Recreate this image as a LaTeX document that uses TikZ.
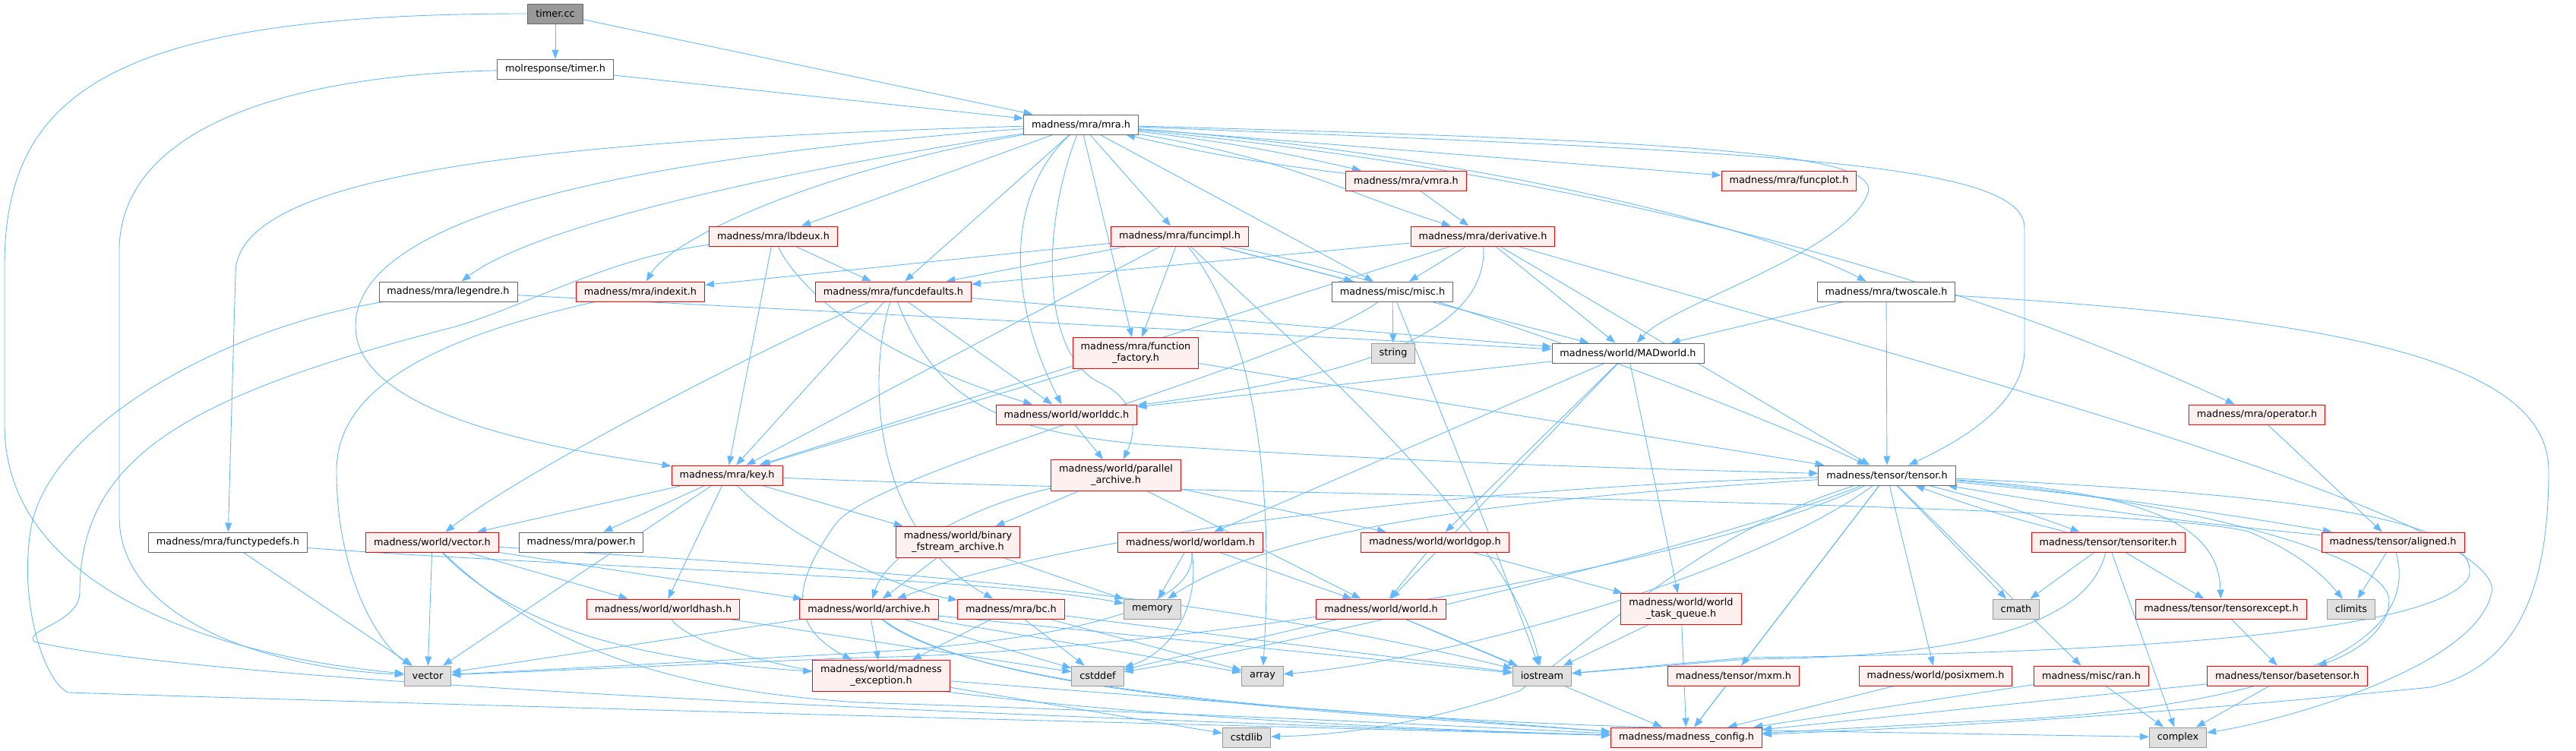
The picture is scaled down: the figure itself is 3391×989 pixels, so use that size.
\documentclass[tikz,border=0pt]{standalone}
\usepackage{fontspec}
\usetikzlibrary{positioning, arrows.meta, calc}
\newfontfamily\doxfont{DejaVu Sans}
\definecolor{doxEdge}{HTML}{63B8FF}
\definecolor{doxRed}{HTML}{FF0000}
\definecolor{doxPink}{HTML}{FFF0F0}
\definecolor{doxGrey}{HTML}{666666}
\definecolor{doxSysFill}{HTML}{E0E0E0}
\definecolor{doxSysLine}{HTML}{999999}
\definecolor{doxRoot}{HTML}{999999}
\pgfdeclarelayer{edges}
\pgfsetlayers{edges,main}

\begin{document}
\begin{tikzpicture}[x=0.2mm, y=-0.2mm,
    box/.style={rectangle, font=\doxfont\fontsize{7.3pt}{8.6pt}\selectfont,
      inner xsep=2.1mm, inner ysep=0pt, minimum height=5.2mm, line width=0.5pt},
    two/.style={align=center, minimum height=8.2mm},
    file/.style={box, draw=doxGrey, fill=white},
    trunc/.style={box, draw=doxRed, fill=doxPink},
    sys/.style={box, draw=doxSysLine, fill=doxSysFill},
    root/.style={box, draw=doxGrey, fill=doxRoot},
    inc/.style={draw=doxEdge, line width=0.5pt, -{Triangle[length=2.4mm, width=1.8mm]}}]
  \useasboundingbox (0,0) rectangle (3391,989);

  % Dateien, Reihe fuer Reihe (Mitte in Pixel des Originals)
  \node[root] (timercc) at (731,18) {timer.cc};
  \node[file] (timerh) at (731,91) {molresponse/timer.h};
  \node[file] (mra) at (1423,164) {madness/mra/mra.h};
  \node[trunc] (vmra) at (1851,238) {madness/mra/vmra.h};
  \node[trunc] (funcplot) at (2355,238) {madness/mra/funcplot.h};
  \node[trunc] (lbdeux) at (1018,311) {madness/mra/lbdeux.h};
  \node[trunc] (funcimpl) at (1553,311) {madness/mra/funcimpl.h};
  \node[trunc] (derivative) at (1952,311) {madness/mra/derivative.h};
  \node[file] (legendre) at (590,384) {madness/mra/legendre.h};
  \node[trunc] (indexit) at (843,384) {madness/mra/indexit.h};
  \node[trunc] (funcdefaults) at (1176,384) {madness/mra/funcdefaults.h};
  \node[file] (misc) at (1833,384) {madness/misc/misc.h};
  \node[file] (twoscale) at (2483,384) {madness/mra/twoscale.h};
  \node[trunc, two] (functionfactory) at (1495,465) {madness/mra/function\\\_factory.h};
  \node[sys] (string) at (1834,465) {string};
  \node[file] (madworld) at (2143,465) {madness/world/MADworld.h};
  \node[trunc] (worlddc) at (1404,546) {madness/world/worlddc.h};
  \node[trunc] (operator) at (2971,546) {madness/mra/operator.h};
  \node[trunc] (key) at (957,626) {madness/mra/key.h};
  \node[trunc, two] (parallelarchive) at (1469,626) {madness/world/parallel\\\_archive.h};
  \node[file] (tensor) at (2484,626) {madness/tensor/tensor.h};
  \node[file] (functypedefs) at (300,714) {madness/mra/functypedefs.h};
  \node[trunc] (vectorh) at (569,714) {madness/world/vector.h};
  \node[file] (power) at (765,714) {madness/mra/power.h};
  \node[trunc, two] (binaryarchive) at (1261,714) {madness/world/binary\\\_fstream\_archive.h};
  \node[trunc] (worldam) at (1567,714) {madness/world/worldam.h};
  \node[trunc] (worldgop) at (1889,714) {madness/world/worldgop.h};
  \node[trunc] (tensoriter) at (2775,714) {madness/tensor/tensoriter.h};
  \node[trunc] (aligned) at (3150,714) {madness/tensor/aligned.h};
  \node[trunc] (worldhash) at (873,802) {madness/world/worldhash.h};
  \node[trunc] (archive) at (1144,802) {madness/world/archive.h};
  \node[trunc] (bc) at (1331,802) {madness/mra/bc.h};
  \node[sys] (memory) at (1517,802) {memory};
  \node[trunc] (world) at (1818,802) {madness/world/world.h};
  \node[trunc, two] (taskqueue) at (2213,802) {madness/world/world\\\_task\_queue.h};
  \node[sys] (cmath) at (2654,802) {cmath};
  \node[trunc] (tensorexcept) at (2924,802) {madness/tensor/tensorexcept.h};
  \node[sys] (climits) at (3095,802) {climits};
  \node[sys] (vector) at (563,890) {vector};
  \node[trunc, two] (exception) at (1160,890) {madness/world/madness\\\_exception.h};
  \node[sys] (cstddef) at (1445,890) {cstddef};
  \node[sys] (array) at (1662,890) {array};
  \node[sys] (iostream) at (2030,890) {iostream};
  \node[trunc] (mxm) at (2282,890) {madness/tensor/mxm.h};
  \node[trunc] (posixmem) at (2548,890) {madness/world/posixmem.h};
  \node[trunc] (ran) at (2753,890) {madness/misc/ran.h};
  \node[trunc] (basetensor) at (3011,890) {madness/tensor/basetensor.h};
  \node[sys] (cstdlib) at (1641,971) {cstdlib};
  \node[trunc] (config) at (2220,971) {madness/madness\_config.h};
  \node[sys] (complex) at (2867,971) {complex};

  \begin{pgfonlayer}{edges}
    % gerade Kanten
    \foreach \a/\b in {timercc/timerh, timercc/mra, timerh/mra,
        mra/funcplot, mra/funcimpl, mra/lbdeux, mra/misc, mra/functionfactory,
        mra/funcdefaults, vmra/derivative,
        lbdeux/key, lbdeux/funcdefaults, legendre/madworld,
        funcimpl/indexit, funcimpl/funcdefaults, funcimpl/key, funcimpl/misc,
        funcimpl/madworld, funcimpl/functionfactory,
        derivative/funcdefaults, derivative/misc, derivative/madworld,
        derivative/tensor, derivative/key,
        funcdefaults/key, funcdefaults/worlddc, funcdefaults/madworld,
        misc/string, twoscale/madworld, twoscale/tensor,
        functionfactory/key, functionfactory/tensor,
        madworld/worlddc, madworld/worldam, madworld/world, madworld/worldgop,
        madworld/taskqueue, worlddc/parallelarchive, operator/aligned,
        parallelarchive/binaryarchive, parallelarchive/world, parallelarchive/worldgop,
        key/vectorh, key/power, key/worldhash, key/vector, key/binaryarchive,
        functypedefs/vector, vectorh/vector, vectorh/worldhash, vectorh/archive,
        binaryarchive/archive, binaryarchive/memory,
        worldam/memory, worldam/world, worldgop/world, worldgop/taskqueue,
        tensor/cmath, tensor/mxm, tensor/posixmem, tensor/ran, tensor/config,
        tensoriter/cmath, tensoriter/tensorexcept, tensoriter/complex,
        aligned/climits, worldhash/cstddef,
        archive/vector, archive/exception, archive/cstddef, archive/array,
        archive/iostream, bc/exception, bc/cstddef, bc/array, bc/iostream,
        world/cstddef, world/iostream, world/config,
        taskqueue/iostream, taskqueue/config, tensorexcept/basetensor,
        exception/cstdlib, exception/config, mxm/config, posixmem/config,
        ran/config, ran/complex, basetensor/config, basetensor/complex}
      \draw[inc] (\a) -- (\b);
    % Hin- und Rueckkanten
    \draw[inc] (mra) to[bend left=3] (vmra);
    \draw[inc] (vmra) to[bend left=3] (mra);
    \draw[inc] (tensor) to[bend left=3] (tensoriter);
    \draw[inc] (tensoriter) to[bend left=3] (tensor);
    \draw[inc] (tensor) to[bend left=2] (aligned);
    \draw[inc] (aligned) to[bend left=2] (tensor);
    % lange Boegen
    \draw[inc] (timercc) .. controls (150,18) and (6,120) .. (6,350)
      -- (6,560) .. controls (6,760) and (250,860) .. (vector);
    \draw[inc] (timerh) .. controls (350,100) and (157,180) .. (157,330)
      -- (157,680) .. controls (157,820) and (360,880) .. (vector);
    \draw[inc] (mra) .. controls (700,185) and (310,230) .. (310,360) -- (functypedefs);
    \draw[inc] (mra) .. controls (1000,230) and (700,300) .. (legendre);
    \draw[inc] (mra) .. controls (1050,230) and (880,320) .. (indexit);
    \draw[inc] (mra) .. controls (800,210) and (468,290) .. (468,430)
      .. controls (468,560) and (800,600) .. (key);
    \draw[inc] (mra) .. controls (1330,250) and (1320,380) .. (worlddc);
    \draw[inc] (mra) .. controls (1370,300) and (1370,470) .. (1450,505)
      .. controls (1500,530) and (1495,570) .. (parallelarchive);
    \draw[inc] (mra) .. controls (1700,210) and (1760,250) .. (derivative);
    \draw[inc] (mra) .. controls (1900,200) and (2300,290) .. (twoscale);
    \draw[inc] (mra) .. controls (2000,220) and (2500,330) .. (operator);
    \draw[inc] (mra) .. controls (2200,185) and (2460,200) .. (2460,250)
      .. controls (2440,330) and (2200,400) .. (madworld);
    \draw[inc] (mra) .. controls (2300,200) and (2665,210) .. (2665,300)
      -- (2665,460) .. controls (2665,540) and (2560,590) .. (tensor);
    \draw[inc] (lbdeux) .. controls (1050,380) and (1150,470) .. (worlddc);
    \draw[inc] (lbdeux) .. controls (800,340) and (700,400) .. (600,430)
      .. controls (250,520) and (105,600) .. (105,780)
      .. controls (105,820) and (30,830) .. (45,845)
      .. controls (300,905) and (1500,950) .. (config);
    \draw[inc] (legendre) .. controls (300,430) and (60,560) .. (40,700)
      .. controls (25,800) and (60,900) .. (90,912)
      .. controls (800,935) and (1800,960) .. (config);
    \draw[inc] (indexit) .. controls (550,450) and (443,520) .. (443,620)
      .. controls (443,760) and (500,850) .. (vector);
    \draw[inc] (funcdefaults) .. controls (1000,460) and (690,620) .. (vectorh);
    \draw[inc] (funcdefaults) .. controls (1140,500) and (1150,700) .. (bc);
    \draw[inc] (funcdefaults) .. controls (1230,520) and (1300,565) .. (1500,585)
      .. controls (1900,612) and (2200,618) .. (tensor);
    \draw[inc] (funcimpl) .. controls (1900,380) and (2350,560) .. (tensor);
    \draw[inc] (funcimpl) .. controls (1640,420) and (1680,600) .. (array);
    \draw[inc] (funcimpl) .. controls (1700,450) and (1990,700) .. (iostream);
    \draw[inc] (derivative) .. controls (1960,450) and (1750,500) .. (worlddc);
    \draw[inc] (derivative) .. controls (2500,470) and (3300,680) .. (3280,780)
      .. controls (3260,880) and (3000,950) .. (complex);
    \draw[inc] (misc) .. controls (1700,480) and (1150,620) .. (1100,690)
      .. controls (1050,760) and (1030,820) .. (exception);
    \draw[inc] (misc) .. controls (1900,550) and (1980,750) .. (iostream);
    \draw[inc] (twoscale) .. controls (3100,420) and (3355,480) .. (3355,620)
      .. controls (3355,800) and (3300,880) .. (3200,905)
      .. controls (2800,945) and (2500,960) .. (config);
    \draw[inc] (parallelarchive) .. controls (1300,660) and (1170,720) .. (archive);
    \draw[inc] (key) .. controls (1050,720) and (1200,780) .. (bc);
    \draw[inc] (key) .. controls (1500,650) and (2800,660) .. (2960,700)
      .. controls (3030,730) and (3060,760) .. (climits);
    \draw[inc] (functypedefs) .. controls (800,750) and (1300,760) .. (memory);
    \draw[inc] (vectorh) .. controls (680,830) and (850,870) .. (exception);
    \draw[inc] (vectorh) .. controls (720,860) and (900,910) .. (1130,925)
      .. controls (1600,940) and (2000,960) .. (config);
    \draw[inc] (vectorh) .. controls (1000,745) and (1500,760) .. (iostream);
    \draw[inc] (worldhash) .. controls (950,900) and (1500,950) .. (config);
    \draw[inc] (worldam) .. controls (1580,800) and (1540,860) .. (cstddef);
    \draw[inc] (worldam) .. controls (1580,820) and (1300,850) .. (1130,860) -- (vector);
    \draw[inc] (archive) .. controls (1300,920) and (1800,940) .. (config);
    \draw[inc] (archive) .. controls (1300,930) and (2000,955) .. (2330,962) -- (complex);
    \draw[inc] (tensor) .. controls (2850,650) and (2920,700) .. (tensorexcept);
    \draw[inc] (tensor) .. controls (2800,650) and (3140,720) .. (3145,790)
      .. controls (3145,830) and (3100,860) .. (basetensor);
    \draw[inc] (tensor) .. controls (3000,650) and (3270,680) .. (3250,760)
      .. controls (3200,850) and (2600,862) .. (2300,866) -- (iostream);
    \draw[inc] (tensor) .. controls (2250,700) and (2150,800) .. (2000,910)
      .. controls (1850,960) and (1750,968) .. (cstdlib);
    \draw[inc] (tensor) .. controls (2000,640) and (1450,690) .. (archive);
    \draw[inc] (tensor) .. controls (2100,650) and (1700,680) .. (memory);
    \draw[inc] (tensor) .. controls (2200,760) and (1500,862) .. (1130,866) -- (vector);
    \draw[inc] (tensor) .. controls (2250,720) and (1700,850) .. (cstddef);
    \draw[inc] (tensor) .. controls (2300,760) and (1900,870) .. (array);
    \draw[inc] (tensoriter) .. controls (2750,820) and (2600,866) .. (2300,868) -- (iostream);
    \draw[inc] (aligned) .. controls (3190,850) and (3000,935) .. (2600,950) -- (config);
  \end{pgfonlayer}
\end{tikzpicture}
\end{document}
